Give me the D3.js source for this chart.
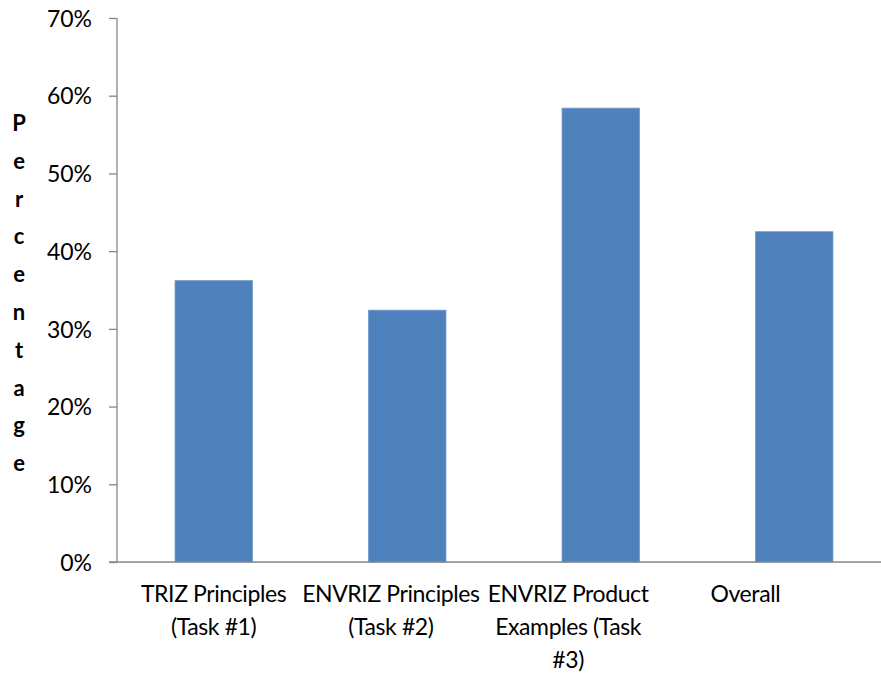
<!DOCTYPE html>
<html>
<head>
<meta charset="utf-8">
<script src="https://cdn.jsdelivr.net/npm/d3@7"></script>
<style>
  html, body { margin: 0; padding: 0; background: #fff; }
  svg { display: block; }
  text { font-family: Lato, "Open Sans", sans-serif; fill: #000; }
</style>
</head>
<body>
<svg id="chart" width="881" height="674"></svg>
<script>
// Share of correct answers per task
const categories = [
  "TRIZ Principles (Task #1)",
  "ENVRIZ Principles (Task #2)",
  "ENVRIZ Product Examples (Task #3)",
  "Overall"
];
// category tick labels, broken into lines
const categoryLines = [
  ["TRIZ Principles", "(Task #1)"],
  ["ENVRIZ Principles", "(Task #2)"],
  ["ENVRIZ Product", "Examples (Task", "#3)"],
  ["Overall"]
];
const percentages = [0.362, 0.324, 0.584, 0.425];
const yTicks = [0, 0.1, 0.2, 0.3, 0.4, 0.5, 0.6, 0.7];
const yTitle = "Percentage";

const svg = d3.select("#chart");
const plot = { left: 117, right: 891, top: 18, bottom: 562 };

const x = d3.scaleBand()
  .domain(categories)
  .range([plot.left, plot.right])
  .paddingInner(0.6)
  .paddingOuter(0.3);

// category labels sit on their own, slightly narrower, band
const xLabel = d3.scaleBand()
  .domain(categories)
  .range([125, 834]);

const y = d3.scaleLinear()
  .domain([0, 0.7])
  .range([plot.bottom, plot.top]);

const axisColor = "#868686";

// bars
svg.append("g")
  .selectAll("rect")
  .data(categories)
  .join("rect")
  .attr("x", d => x(d))
  .attr("width", x.bandwidth())
  .attr("y", (d, i) => y(percentages[i]))
  .attr("height", (d, i) => y(0) - y(percentages[i]))
  .attr("fill", "#4F81BD")
  .attr("stroke", "#6E97CB")
  .attr("stroke-width", 0.8);

// y axis
const yAxis = d3.axisLeft(y)
  .tickValues(yTicks)
  .tickFormat(d3.format(".0%"))
  .tickSize(8)
  .tickPadding(17);

const gy = svg.append("g")
  .attr("transform", `translate(${plot.left},0)`)
  .call(yAxis);
gy.select(".domain").attr("stroke", axisColor).attr("stroke-width", 1.3)
  .attr("d", `M0,${plot.top}V${plot.bottom}`);
gy.selectAll(".tick line").attr("stroke", axisColor).attr("stroke-width", 1.3);
gy.selectAll(".tick text")
  .style("font-size", "23px")
  .style("font-family", "Lato, 'Open Sans', sans-serif")
  .attr("fill", "#000")
  .attr("dy", "0.36em");

// x axis baseline
svg.append("line")
  .attr("x1", plot.left - 8)
  .attr("x2", plot.right)
  .attr("y1", y(0))
  .attr("y2", y(0))
  .attr("stroke", axisColor)
  .attr("stroke-width", 1.3);

// multi-line category labels
const lineHeight = 33;
svg.append("g")
  .selectAll("text")
  .data(categories)
  .join("text")
  .attr("text-anchor", "middle")
  .style("font-size", "23px")
  .style("letter-spacing", "-0.4px")
  .attr("x", d => xLabel(d) + xLabel.bandwidth() / 2)
  .attr("y", 602)
  .each(function (d, i) {
    const t = d3.select(this);
    const cx = +t.attr("x");
    t.selectAll("tspan")
      .data(categoryLines[i])
      .join("tspan")
      .attr("x", cx)
      .attr("dy", (l, j) => j === 0 ? 0 : lineHeight)
      .text(l => l);
  });

// stacked vertical axis title
const title = svg.append("text")
  .attr("text-anchor", "middle")
  .style("font-size", "22px")
  .style("font-weight", "bold")
  .attr("x", 19)
  .attr("y", 131);
title.selectAll("tspan")
  .data(yTitle.split(""))
  .join("tspan")
  .attr("x", 19)
  .attr("dy", (d, i) => i === 0 ? 0 : 37.8)
  .text(d => d);
</script>
</body>
</html>
